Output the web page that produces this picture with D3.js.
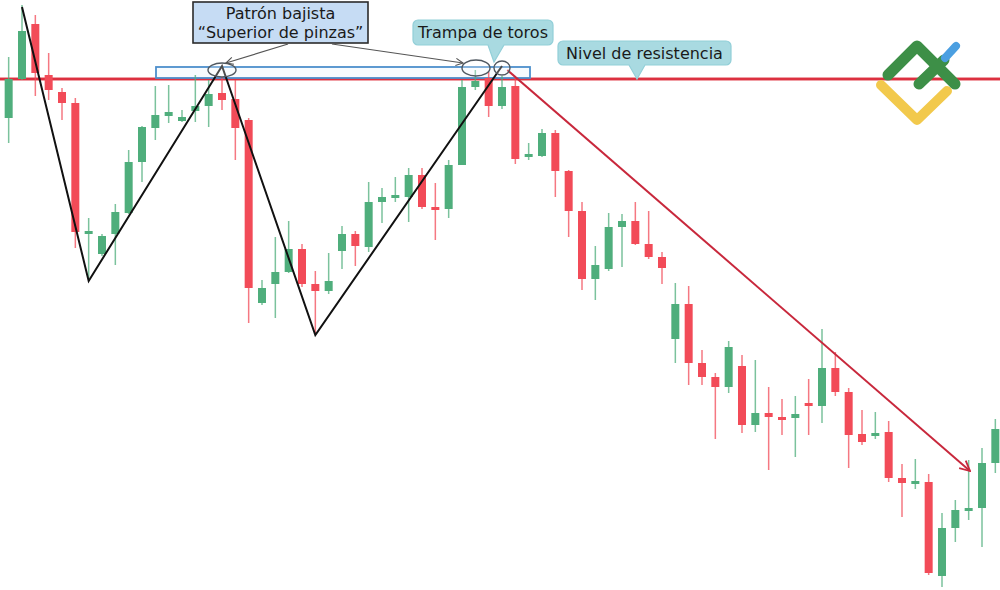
<!DOCTYPE html>
<html>
<head>
<meta charset="utf-8">
<script src="https://cdn.jsdelivr.net/npm/d3@7"></script>
<style>
  html, body { margin: 0; padding: 0; background: #ffffff; }
  svg { display: block; }
</style>
</head>
<body>
<div id="chart"></div>
<script>
// ---- DATA ----
const candles = d3.range(75);
const open = [1.1382,1.1421,1.1476,1.1425,1.1408,1.1397,1.1267,1.1246,1.1266,1.1287,
  1.1338,1.1372,1.1384,1.1379,1.1389,1.1394,1.1407,1.1401,1.1380,1.1197,
  1.1216,1.1228,1.1251,1.1216,1.1209,1.1249,1.1266,1.1253,1.1298,1.1303,
  1.1303,1.1325,1.1293,1.1291,1.1335,1.1413,1.1422,1.1394,1.1414,1.1343,
  1.1344,1.1367,1.1329,1.1289,1.1221,1.1231,1.1273,1.1279,1.1256,1.1243,
  1.1161,1.1196,1.1137,1.1123,1.1113,1.1134,1.1075,1.1087,1.1083,1.1082,
  1.1097,1.1094,1.1132,1.1108,1.1066,1.1064,1.1068,1.1022,1.1016,1.1018,
  1.0924,1.0972,1.0990,1.0992,1.1037];
const close = [1.1421,1.1469,1.1427,1.1410,1.1397,1.1268,1.1269,1.1264,1.1288,1.1338,
  1.1373,1.1385,1.1388,1.1383,1.1394,1.1406,1.1400,1.1372,1.1212,1.1212,
  1.1228,1.1251,1.1216,1.1209,1.1219,1.1266,1.1254,1.1298,1.1303,1.1305,
  1.1325,1.1293,1.1291,1.1335,1.1413,1.1419,1.1394,1.1413,1.1341,1.1346,
  1.1367,1.1329,1.1289,1.1221,1.1235,1.1273,1.1279,1.1256,1.1243,1.1232,
  1.1196,1.1137,1.1123,1.1113,1.1153,1.1075,1.1087,1.1083,1.1082,1.1086,
  1.1095,1.1132,1.1108,1.1065,1.1058,1.1067,1.1022,1.1017,1.1019,1.0927,
  1.0972,1.0990,1.0992,1.1037,1.1071];
const high = [1.1443,1.1495,1.1485,1.1447,1.1412,1.1402,1.1282,1.1266,1.1296,1.1350,
  1.1374,1.1414,1.1415,1.1390,1.1425,1.1420,1.1423,1.1420,1.1382,1.1220,
  1.1263,1.1279,1.1256,1.1229,1.1247,1.1274,1.1269,1.1318,1.1312,1.1323,
  1.1332,1.1332,1.1317,1.1340,1.1420,1.1430,1.1428,1.1424,1.1422,1.1357,
  1.1371,1.1370,1.1330,1.1298,1.1254,1.1287,1.1286,1.1298,1.1289,1.1248,
  1.1217,1.1214,1.1150,1.1127,1.1159,1.1145,1.1140,1.1113,1.1101,1.1104,
  1.1121,1.1171,1.1148,1.1112,1.1090,1.1088,1.1079,1.1036,1.1041,1.1026,
  1.0987,1.1000,1.1040,1.1052,1.1081];
const low = [1.1357,1.1420,1.1404,1.1400,1.1380,1.1252,1.1222,1.1244,1.1235,1.1286,
  1.1318,1.1360,1.1377,1.1378,1.1378,1.1373,1.1390,1.1340,1.1177,1.1195,
  1.1182,1.1227,1.1213,1.1167,1.1206,1.1231,1.1234,1.1248,1.1277,1.1298,
  1.1278,1.1291,1.1260,1.1282,1.1335,1.1410,1.1383,1.1391,1.1336,1.1340,
  1.1343,1.1303,1.1263,1.1210,1.1200,1.1229,1.1233,1.1255,1.1241,1.1216,
  1.1137,1.1115,1.1115,1.1061,1.1107,1.1067,1.1068,1.1030,1.1065,1.1043,
  1.1065,1.1077,1.1104,1.1032,1.1055,1.1061,1.1018,1.0983,1.1011,1.0925,
  1.0913,1.0958,1.0980,1.0953,1.1027];

const resistance = 1.1421;
// zigzag pattern pivots: [candle index, price]
const zigzagIdx = [1, 6, 16, 23, 37];
const zigzagPx  = [1.1493, 1.1219, 1.1434, 1.1165, 1.1434];
// downtrend arrow: [start, end]
const trendIdx = [37.4, 72.1];
const trendPx  = [1.1430, 1.1029];
// pattern zone rectangle
const zoneIdx = [11.05, 39.1];
const zonePx  = [1.1433, 1.1422];
// ellipses around the tops: centre index, centre price
const ellIdx = [16.0, 35.05, 37.0];
const ellPx  = [1.1430, 1.1432, 1.1432];

const labelPattern = ["Patrón bajista", "“Superior de pinzas”"];
const labelTrap = "Trampa de toros";
const labelRes = "Nivel de resistencia";

// ---- CHART ----
const W = 1000, H = 590;
const svg = d3.select("#chart").append("svg").attr("width", W).attr("height", H);

const x = d3.scaleBand().domain(candles).range([2, 1002]).paddingInner(0.4).paddingOuter(0.2);
const xc = d3.scaleLinear().domain([0, 74])
  .range([x(0) + x.bandwidth() / 2, x(74) + x.bandwidth() / 2]);
const y = d3.scaleLinear().domain([1.0910, 1.1500]).range([H, 0]);

const GREEN = "#4fae7c", RED = "#f24b58";
const data = candles.map(i => ({i, o: open[i], c: close[i], h: high[i], l: low[i]}));

// resistance line
svg.append("line").attr("x1", 0).attr("x2", W)
  .attr("y1", y(resistance)).attr("y2", y(resistance))
  .attr("stroke", "#f0a0a6").attr("stroke-width", 4);
svg.append("line").attr("x1", 0).attr("x2", W)
  .attr("y1", y(resistance)).attr("y2", y(resistance))
  .attr("stroke", "#dc3040").attr("stroke-width", 1.8);

// pattern zone rectangle
svg.append("rect")
  .attr("x", xc(zoneIdx[0])).attr("y", y(zonePx[0]))
  .attr("width", xc(zoneIdx[1]) - xc(zoneIdx[0]))
  .attr("height", y(zonePx[1]) - y(zonePx[0]))
  .attr("fill", "#f2f8fd").attr("fill-opacity", 0.6)
  .attr("stroke", "#4d8fcc").attr("stroke-width", 1.8);

// candles
const g = svg.append("g");
g.selectAll("line.wick").data(data).join("line").attr("class", "wick")
  .attr("x1", d => x(d.i) + x.bandwidth() / 2).attr("x2", d => x(d.i) + x.bandwidth() / 2)
  .attr("y1", d => y(d.h)).attr("y2", d => y(d.l))
  .attr("stroke", d => d.c >= d.o ? GREEN : RED)
  .attr("stroke-opacity", 0.75).attr("stroke-width", 1.5);
g.selectAll("rect.body").data(data).join("rect").attr("class", "body")
  .attr("x", d => x(d.i)).attr("width", x.bandwidth())
  .attr("y", d => y(Math.max(d.o, d.c)))
  .attr("height", d => Math.max(3, Math.abs(y(d.o) - y(d.c))))
  .attr("fill", d => d.c >= d.o ? GREEN : RED);

// zigzag
const zz = zigzagIdx.map((v, k) => [xc(v), y(zigzagPx[k])]);
svg.append("path").attr("d", d3.line()(zz))
  .attr("fill", "none").attr("stroke", "#111").attr("stroke-width", 2)
  .attr("stroke-linejoin", "miter");

// trend arrow
const defs = svg.append("defs");
defs.append("marker").attr("id", "arrRed").attr("viewBox", "0 0 12 12")
  .attr("refX", 11).attr("refY", 6).attr("markerWidth", 12).attr("markerHeight", 12)
  .attr("markerUnits", "userSpaceOnUse").attr("orient", "auto")
  .append("path").attr("d", "M1,1 L11,6 L1,11").attr("fill", "none")
  .attr("stroke", "#c8283c").attr("stroke-width", 1.8);
defs.append("marker").attr("id", "arrGray").attr("viewBox", "0 0 10 10")
  .attr("refX", 9).attr("refY", 5).attr("markerWidth", 9).attr("markerHeight", 9)
  .attr("markerUnits", "userSpaceOnUse").attr("orient", "auto")
  .append("path").attr("d", "M1,1 L9,5 L1,9").attr("fill", "none")
  .attr("stroke", "#555").attr("stroke-width", 1.2);

svg.append("line")
  .attr("x1", xc(trendIdx[0])).attr("y1", y(trendPx[0]))
  .attr("x2", xc(trendIdx[1])).attr("y2", y(trendPx[1]))
  .attr("stroke", "#c8283c").attr("stroke-width", 2)
  .attr("marker-end", "url(#arrRed)");

// ellipses
const ellR = [[14, 7], [14, 8], [8, 7]];
svg.selectAll("ellipse.top").data(ellIdx).join("ellipse").attr("class", "top")
  .attr("cx", (d, k) => xc(d)).attr("cy", (d, k) => y(ellPx[k]))
  .attr("rx", (d, k) => ellR[k][0]).attr("ry", (d, k) => ellR[k][1])
  .attr("fill", "#ffffff").attr("fill-opacity", 0.25)
  .attr("stroke", "#505860").attr("stroke-width", 1.4);

// pattern label box
const FONT = "DejaVu Sans, Verdana, sans-serif";
svg.append("rect").attr("x", 193).attr("y", 2).attr("width", 175).attr("height", 41)
  .attr("fill", "#c6dcf4").attr("stroke", "#2b2b2b").attr("stroke-width", 1.6);
svg.selectAll("text.pat").data(labelPattern).join("text").attr("class", "pat")
  .attr("x", 280.5).attr("y", (d, k) => 19 + k * 19)
  .attr("text-anchor", "middle").attr("font-family", FONT).attr("font-size", 16)
  .attr("fill", "#1a1a1a").text(d => d);

// arrows from label box to ellipses
svg.append("line").attr("x1", 288).attr("y1", 44)
  .attr("x2", xc(ellIdx[0]) + 4).attr("y2", y(ellPx[0]) - 7)
  .attr("stroke", "#555").attr("stroke-width", 1.2).attr("marker-end", "url(#arrGray)");
svg.append("line").attr("x1", 332).attr("y1", 44)
  .attr("x2", xc(ellIdx[1]) - 13).attr("y2", y(ellPx[1]) - 5)
  .attr("stroke", "#555").attr("stroke-width", 1.2).attr("marker-end", "url(#arrGray)");

// callouts
function callout(x0, y0, w, h, tail, text) {
  const r = 5;
  const [t1, t2, tx, ty] = tail;
  const p = d3.path();
  p.moveTo(x0 + r, y0);
  p.lineTo(x0 + w - r, y0);
  p.arcTo(x0 + w, y0, x0 + w, y0 + r, r);
  p.lineTo(x0 + w, y0 + h - r);
  p.arcTo(x0 + w, y0 + h, x0 + w - r, y0 + h, r);
  p.lineTo(t2, y0 + h);
  p.lineTo(tx, ty);
  p.lineTo(t1, y0 + h);
  p.lineTo(x0 + r, y0 + h);
  p.arcTo(x0, y0 + h, x0, y0 + h - r, r);
  p.lineTo(x0, y0 + r);
  p.arcTo(x0, y0, x0 + r, y0, r);
  p.closePath();
  svg.append("path").attr("d", p.toString())
    .attr("fill", "#a9dae1").attr("stroke", "#92cfd8").attr("stroke-width", 1.2);
  svg.append("text").attr("x", x0 + w / 2).attr("y", y0 + h / 2 + 5.5)
    .attr("text-anchor", "middle").attr("font-family", FONT).attr("font-size", 16)
    .attr("fill", "#1a1a1a").text(text);
}
callout(413, 20, 140, 25, [488, 504, xc(ellIdx[2]) - 8, y(ellPx[2]) - 6], labelTrap);
callout(558, 41, 173, 24, [629, 645, 637, y(resistance)], labelRes);

// logo (decoration)
const logo = svg.append("g").attr("fill", "none").attr("stroke-linecap", "round")
  .attr("stroke-linejoin", "round");
logo.append("path").attr("d", "M881,85 L917,120 L947,91")
  .attr("stroke", "#f2c94c").attr("stroke-width", 10);
logo.append("path").attr("d", "M888,75 L917,46 L955,84")
  .attr("stroke", "#3d8f47").attr("stroke-width", 11);
logo.append("path").attr("d", "M919,84 L944,60")
  .attr("stroke", "#3d8f47").attr("stroke-width", 11);
logo.append("path").attr("d", "M945,58 L956,46")
  .attr("stroke", "#4b9fe1").attr("stroke-width", 8);
</script>
</body>
</html>
